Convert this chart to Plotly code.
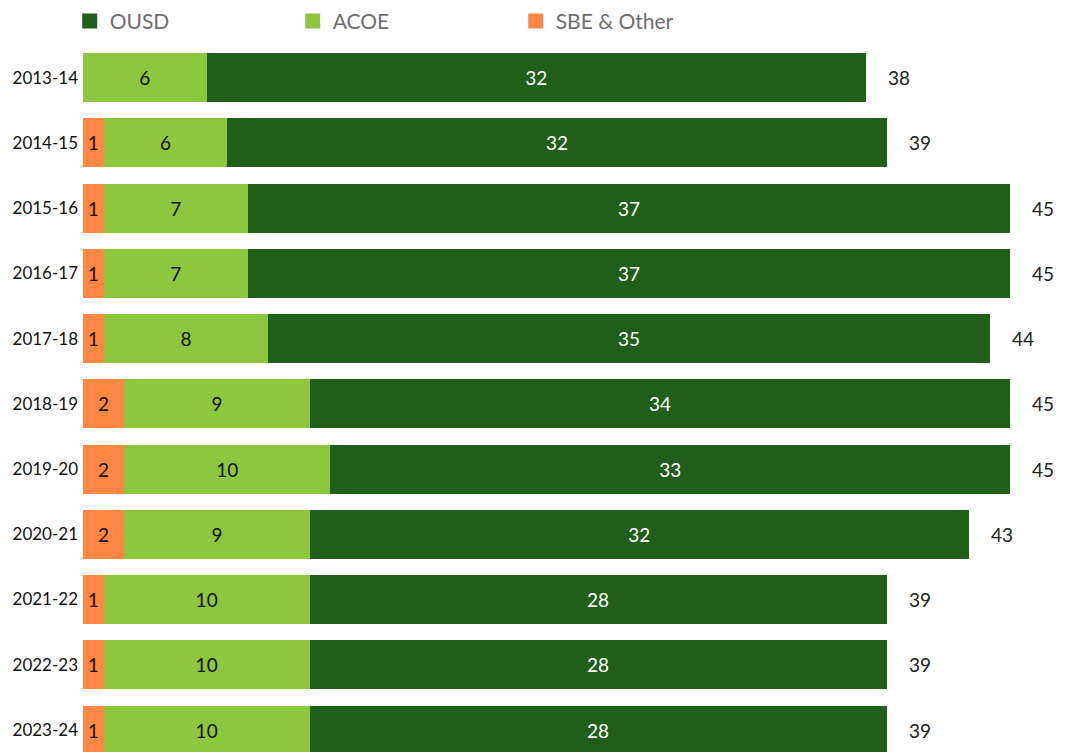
import plotly.graph_objects as go

years = ["2013-14", "2014-15", "2015-16", "2016-17", "2017-18", "2018-19",
         "2019-20", "2020-21", "2021-22", "2022-23", "2023-24"]
sbe_other = [0, 1, 1, 1, 1, 2, 2, 2, 1, 1, 1]
acoe = [6, 6, 7, 7, 8, 9, 10, 9, 10, 10, 10]
ousd = [32, 32, 37, 37, 35, 34, 33, 32, 28, 28, 28]
totals = [38, 39, 45, 45, 44, 45, 45, 43, 39, 39, 39]

series_names = ["OUSD", "ACOE", "SBE & Other"]
colors = {"OUSD": "#1F5F1A", "ACOE": "#8DC63F", "SBE & Other": "#FF8743"}

FONT = "Lato"
LABEL_SIZE = 19
fig = go.Figure()

def add_bar(name, values, txtcolor):
    fig.add_trace(go.Bar(
        y=years, x=values, orientation="h", name=name, showlegend=False,
        marker=dict(color=colors[name], line=dict(width=0)),
        text=[str(v) if v else "" for v in values], textposition="inside",
        insidetextanchor="middle", textangle=0,
        textfont=dict(color=txtcolor, size=LABEL_SIZE, family=FONT),
    ))

add_bar("SBE & Other", sbe_other, "#111111")
add_bar("ACOE", acoe, "#111111")
add_bar("OUSD", ousd, "#FFFFFF")

# legend entries (square swatches)
for name in series_names:
    fig.add_trace(go.Scatter(
        x=[None], y=[None], mode="markers", name=name,
        marker=dict(symbol="square", size=15, color=colors[name]),
        showlegend=True, hoverinfo="skip",
    ))

for y, t in zip(years, totals):
    fig.add_annotation(x=t, y=y, text=str(t), showarrow=False,
                       xanchor="center", xshift=33,
                       font=dict(size=LABEL_SIZE, color="#222222", family=FONT))

fig.update_layout(
    width=1064, height=744,
    barmode="stack", bargap=0.25,
    plot_bgcolor="white", paper_bgcolor="white",
    margin=dict(l=75, r=0, t=37, b=0, autoexpand=False),
    font=dict(family=FONT, color="#222222"),
    uniformtext=dict(minsize=LABEL_SIZE, mode="show"),
    showlegend=True,
    legend=dict(orientation="h", xref="container", yref="paper",
                x=0.058, y=1.0623, xanchor="left", yanchor="top",
                traceorder="normal",
                entrywidth=178, entrywidthmode="pixels",
                font=dict(size=21, color="#6E6E6E", family=FONT),
                bgcolor="rgba(0,0,0,0)"),
    xaxis=dict(range=[0, 48], showgrid=False, zeroline=False,
               showticklabels=False, showline=False, fixedrange=True),
    yaxis=dict(categoryorder="array", categoryarray=years,
               range=[10.337, -0.5], showgrid=False, zeroline=False,
               showline=False, ticks="", ticklabelstandoff=4,
               automargin=False,
               tickfont=dict(size=17, color="#111111", family=FONT)),
)

fig.write_html("out.html")
